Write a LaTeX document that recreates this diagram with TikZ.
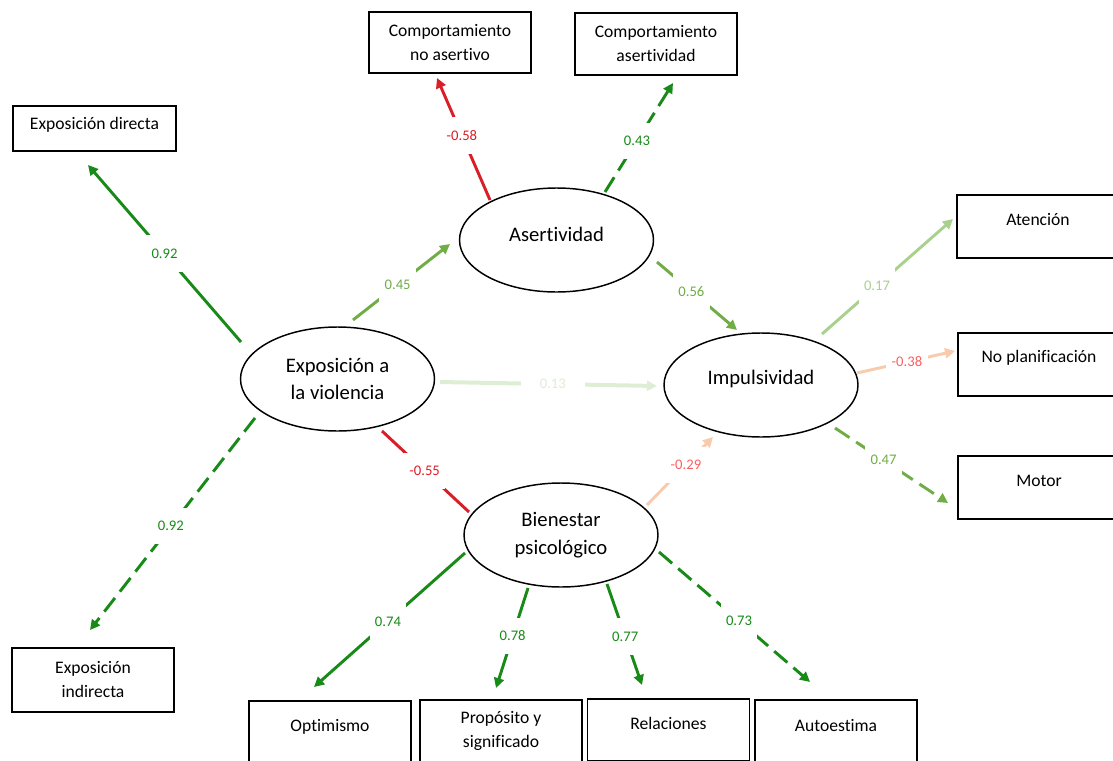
\documentclass[tikz,border=0pt]{standalone}
\usepackage{fontspec}
\setmainfont{Carlito}[Ligatures=NoCommon]
\usetikzlibrary{arrows.meta,calc,shapes.geometric}
\definecolor{dkgreen}{RGB}{24,138,24}
\definecolor{mdgreen}{RGB}{112,173,71}
\definecolor{ltgreen}{RGB}{169,209,142}
\definecolor{palegreen}{RGB}{222,238,212}
\definecolor{myred}{RGB}{218,30,40}
\definecolor{peach}{RGB}{248,203,173}
\definecolor{salmon}{RGB}{255,95,95}
\tikzset{
  lat/.style={ellipse, draw, line width=1.1pt, minimum width=145.5pt, minimum height=78pt,
    inner sep=0pt, align=center, font=\fontsize{15.5pt}{20.5pt}\selectfont},
  obs/.style={rectangle, draw, line width=1.1pt, minimum width=121.5pt, minimum height=46.5pt,
    inner sep=0pt, align=center, font=\fontsize{13.2pt}{18pt}\selectfont},
  up/.style={text height=9.9pt, text depth=#1},
  eup/.style={text height=11.6pt, text depth=#1},
  conn/.style={line width=2.2pt, -{Triangle[length=7.5pt,width=7.5pt]}},
  plain/.style={line width=2.2pt},
  dsh/.style={dash pattern=on 13pt off 6pt},
  lab/.style={fill=white, inner xsep=4pt, inner ysep=10pt, font=\fontsize{11pt}{12pt}\selectfont}
}
\begin{document}
\begin{tikzpicture}[x=0.75pt,y=-0.75pt]
\useasboundingbox (0,0) rectangle (1113,760);
% latent variables
\node[lat, eup=8.9pt] (as) at (556.5,240) {Asertividad};
\node[lat] (ev) at (337.5,379) {Exposición a\\la violencia};
\node[lat, eup=11.9pt] (imp) at (761,385) {Impulsividad};
\node[lat] (bw) at (561,535) {Bienestar\\psicológico};
% observed variables
\node[obs, minimum height=45.75pt] (cna) at (450,42.5) {Comportamiento\\no asertivo};
\node[obs] (ca) at (656,44) {Comportamiento\\asertividad};
\node[obs, minimum width=122.25pt, minimum height=33.75pt, up=7.9pt] (ed) at (94.5,128.5) {Exposición directa};
\node[obs, minimum height=47.25pt, up=10.9pt] (at) at (1038,226.5) {Atención};
\node[obs, minimum height=47.25pt, up=12.3pt] (np) at (1039,364.5) {No planificación};
\node[obs, minimum height=47.25pt, up=10.9pt] (mo) at (1039,487.5) {Motor};
\node[obs, minimum height=48pt] (ei) at (93,680) {Exposición\\indirecta};
\node[obs, up=10.1pt] (op) at (330,732) {Optimismo};
\node[obs] (ps) at (501,731) {Propósito y\\significado};
\node[obs, up=10.1pt] (re) at (668.5,730) {Relaciones};
\node[obs, up=8.6pt] (au) at (836,731) {Autoestima};
% connectors
\draw[conn, dkgreen] ($(ev)+(-96.5,-37)$) -- node[lab, pos=0.5, text=dkgreen]{0.92} ($(ed)+(-6.5,36.5)$);
\draw[conn, dkgreen, dsh] ($(ev)+(-82.5,39)$) -- node[lab, pos=0.51, text=dkgreen]{0.92} ($(ei)+(-3,-50)$);
\draw[conn, myred] ($(as)+(-66.5,-40)$) -- node[lab, pos=0.53, text=myred]{-0.58} ($(cna)+(-13,35.5)$);
\draw[conn, dkgreen, dsh] ($(as)+(48.5,-48)$) -- node[lab, pos=0.47, text=dkgreen]{0.43} ($(ca)+(17,39)$);
\draw[conn, mdgreen] ($(ev)+(15.5,-59)$) -- node[lab, pos=0.46, text=mdgreen]{0.45} ($(as)+(-106.5,4)$);
\draw[conn, mdgreen] ($(as)+(100.5,22)$) -- node[lab, pos=0.43, text=mdgreen]{0.56} ($(imp)+(-24,-55)$);
\draw[conn, palegreen, line width=3pt] ($(ev)+(102.5,3)$) -- node[lab, pos=0.52, inner xsep=14pt, text=palegreen]{0.13} ($(imp)+(-104,1)$);
\draw[plain, myred] ($(ev)+(44.5,52)$) -- node[lab, pos=0.49, text=myred]{-0.55} ($(bw)+(-92,-23)$);
\draw[conn, peach] ($(bw)+(86,-30)$) -- node[lab, pos=0.59, text=salmon]{-0.29} ($(imp)+(-48,52)$);
\draw[conn, ltgreen] ($(imp)+(61,-51)$) -- node[lab, pos=0.42, text=ltgreen]{0.17} ($(at)+(-85,-7.5)$);
\draw[conn, peach] ($(imp)+(96,-12)$) -- node[lab, pos=0.51, text=salmon]{-0.38} ($(np)+(-84,-13.5)$);
\draw[conn, mdgreen, dsh] ($(imp)+(74,43)$) -- node[lab, pos=0.43, text=mdgreen]{0.47} ($(mo)+(-91,15.5)$);
\draw[conn, dkgreen] ($(bw)+(-96,18)$) -- node[lab, pos=0.51, text=dkgreen]{0.74} ($(op)+(-16,-45)$);
\draw[conn, dkgreen] ($(bw)+(-33,53)$) -- node[lab, pos=0.48, text=dkgreen]{0.78} ($(ps)+(-5,-43)$);
\draw[conn, dkgreen] ($(bw)+(46,49)$) -- node[lab, pos=0.52, text=dkgreen]{0.77} ($(re)+(-26.5,-45)$);
\draw[conn, dkgreen, dsh] ($(bw)+(98,17)$) -- node[lab, pos=0.53, text=dkgreen]{0.73} ($(au)+(-26,-49)$);
\end{tikzpicture}
\end{document}
